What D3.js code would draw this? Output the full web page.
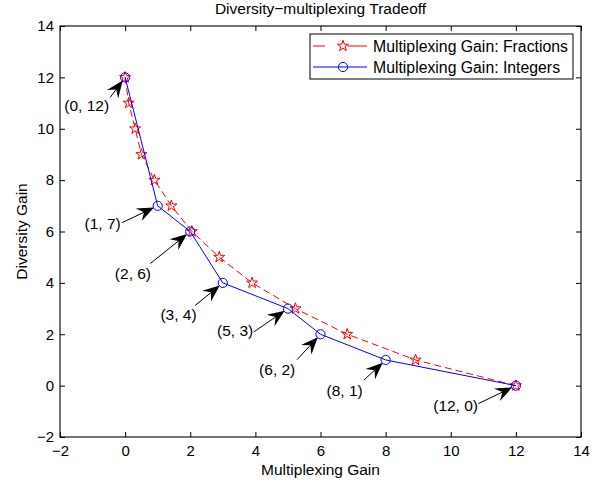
<!DOCTYPE html>
<html lang="en">
<head>
<meta charset="UTF-8">
<title>Diversity-multiplexing Tradeoff</title>
<script src="https://cdn.jsdelivr.net/npm/d3@7"></script>
<style>
  body { margin: 0; background: #fff; }
  text { font-family: "Liberation Sans", Arial, Helvetica, sans-serif; fill: #000; }
</style>
</head>
<body>
<svg width="604" height="483"></svg>
<script>
    // data
    var fracX = [0, 0.11, 0.31, 0.5, 0.9, 1.42, 2.05, 2.89, 3.9, 5.23, 6.82, 8.92, 12];
    var fracY = [12, 11, 10, 9, 8, 7, 6, 5, 4, 3, 2, 1, 0];
    var intX = [0, 1, 2, 3, 5, 6, 8, 12];
    var intY = [12, 7, 6, 4, 3, 2, 1, 0];
    var xTicks = [-2, 0, 2, 4, 6, 8, 10, 12, 14];
    var yTicks = [-2, 0, 2, 4, 6, 8, 10, 12, 14];
    var seriesNames = ["Multiplexing Gain: Fractions", "Multiplexing Gain: Integers"];

    // annotations: label, text centre and arrow tail (data units), arrow points at intX/intY
    var annoLabels = ["(0, 12)", "(1, 7)", "(2, 6)", "(3, 4)", "(5, 3)", "(6, 2)", "(8, 1)", "(12, 0)"];
    var annoTextX = [-1.18, -0.69, 0.24, 1.64, 3.38, 4.67, 6.74, 10.15];
    var annoTextY = [10.91, 6.30, 4.38, 2.77, 2.15, 0.63, -0.18, -0.77];
    var annoTailX = [-0.46, -0.10, 0.77, 2.15, 3.95, 5.28, 7.33, 10.85];
    var annoTailY = [11.22, 6.34, 4.75, 3.12, 2.09, 1.01, 0.21, -0.70];

    var svg = d3.select("svg"),
        margin = {top: 26, right: 23, bottom: 46, left: 60},
        width = +svg.attr("width") - margin.left - margin.right,
        height = +svg.attr("height") - margin.top - margin.bottom;

    var x = d3.scaleLinear().domain([-2, 14]).range([0, width]);
    var y = d3.scaleLinear().domain([-2, 14]).range([height, 0]);

    var g = svg.append("g").attr("transform", "translate(" + margin.left + "," + margin.top + ")");

    //坐标轴
    var fmt = function(d) { return d < 0 ? "\u2212" + Math.abs(d) : d; };
    g.append("g").attr("transform", "translate(0," + height + ")")
        .call(d3.axisBottom(x).tickValues(xTicks).tickFormat(fmt).tickSizeInner(-5).tickSizeOuter(0).tickPadding(8));
    g.append("g")
        .call(d3.axisLeft(y).tickValues(yTicks).tickFormat(fmt).tickSizeInner(-5).tickSizeOuter(0).tickPadding(6));
    g.append("g")
        .call(d3.axisTop(x).tickValues(xTicks).tickFormat("").tickSizeInner(-5).tickSizeOuter(0));
    g.append("g").attr("transform", "translate(" + width + ",0)")
        .call(d3.axisRight(y).tickValues(yTicks).tickFormat("").tickSizeInner(-5).tickSizeOuter(0));
    g.selectAll(".domain").remove();
    g.selectAll(".tick line").attr("stroke", "#000");
    g.selectAll(".tick text").style("font-size", "15px").attr("fill", "#000");
    g.append("rect").attr("width", width).attr("height", height)
        .attr("fill", "none").attr("stroke", "#000").attr("stroke-width", 1.1);

    //曲线
    var line = d3.line().x(function(d) { return x(d[0]); }).y(function(d) { return y(d[1]); });
    var fracPts = fracX.map(function(v, i) { return [v, fracY[i]]; });
    var intPts = intX.map(function(v, i) { return [v, intY[i]]; });
    var star = d3.symbol().type(d3.symbolStar).size(38);

    g.append("path").datum(fracPts).attr("d", line)
        .attr("fill", "none").attr("stroke", "#f00").attr("stroke-width", 1).attr("stroke-dasharray", "7,4");
    g.append("g").selectAll("path").data(fracPts).enter().append("path")
        .attr("d", star)
        .attr("transform", function(d) { return "translate(" + x(d[0]) + "," + y(d[1]) + ")"; })
        .attr("fill", "none").attr("stroke", "#f00").attr("stroke-width", 1);

    g.append("path").datum(intPts).attr("d", line)
        .attr("fill", "none").attr("stroke", "#00f").attr("stroke-width", 1);
    g.append("g").selectAll("circle").data(intPts).enter().append("circle")
        .attr("cx", function(d) { return x(d[0]); })
        .attr("cy", function(d) { return y(d[1]); })
        .attr("r", 4.6)
        .attr("fill", "none").attr("stroke", "#00f").attr("stroke-width", 1);

    //箭头标注
    var annos = svg.append("g").attr("transform", "translate(" + margin.left + "," + margin.top + ")");
    annoLabels.forEach(function(lbl, i) {
        var tx = x(annoTailX[i]), ty = y(annoTailY[i]);
        var px = x(intX[i]), py = y(intY[i]);
        var dx = px - tx, dy = py - ty, len = Math.sqrt(dx * dx + dy * dy);
        var ux = dx / len, uy = dy / len;
        var hx = px - 4 * ux, hy = py - 4 * uy;
        var ang = Math.atan2(uy, ux) * 180 / Math.PI;
        annos.append("line")
            .attr("x1", tx).attr("y1", ty)
            .attr("x2", hx - 8 * ux).attr("y2", hy - 8 * uy)
            .attr("stroke", "#000").attr("stroke-width", 1);
        annos.append("path")
            .attr("d", "M0,0L-17,-7L-11,0L-17,7Z")
            .attr("transform", "translate(" + hx + "," + hy + ") rotate(" + ang + ")")
            .attr("fill", "#000");
        annos.append("text")
            .attr("x", x(annoTextX[i])).attr("y", y(annoTextY[i]))
            .attr("text-anchor", "middle").attr("dy", "0.35em")
            .style("font-size", "15.5px")
            .text(lbl);
    });

    //图例
    var leg = svg.append("g").attr("transform", "translate(310,34)");
    leg.append("rect").attr("width", 263).attr("height", 45)
        .attr("fill", "#fff").attr("stroke", "#000").attr("stroke-width", 1);
    leg.append("line").attr("x1", 3).attr("x2", 57).attr("y1", 12).attr("y2", 12)
        .attr("stroke", "#f00").attr("stroke-dasharray", "12,23,20").attr("stroke-width", 1);
    leg.append("path").attr("d", star).attr("transform", "translate(33,12)")
        .attr("fill", "none").attr("stroke", "#f00");
    leg.append("line").attr("x1", 3).attr("x2", 57).attr("y1", 33).attr("y2", 33)
        .attr("stroke", "#00f").attr("stroke-width", 1);
    leg.append("circle").attr("cx", 33).attr("cy", 33).attr("r", 4.6)
        .attr("fill", "none").attr("stroke", "#00f");
    leg.selectAll("text.lab").data(seriesNames).enter().append("text")
        .attr("x", 63).attr("y", function(d, i) { return 12 + i * 21; })
        .attr("dy", "0.35em").style("font-size", "15.8px")
        .text(function(d) { return d; });

    //标题
    svg.append("text").attr("x", margin.left + width / 2).attr("y", 14)
        .attr("text-anchor", "middle").style("font-size", "15.5px")
        .text("Diversity\u2212multiplexing Tradeoff");
    svg.append("text").attr("x", margin.left + width / 2).attr("y", 475)
        .attr("text-anchor", "middle").style("font-size", "15.5px")
        .text("Multiplexing Gain");
    svg.append("text").attr("transform", "translate(27," + (margin.top + height / 2) + ") rotate(-90)")
        .attr("text-anchor", "middle").style("font-size", "15.5px")
        .text("Diversity Gain");
</script>
</body>
</html>
